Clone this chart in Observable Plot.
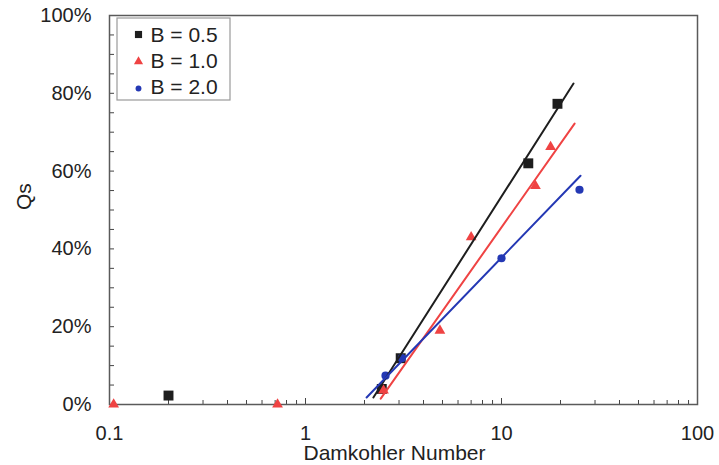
<!DOCTYPE html>
<html>
<head>
<meta charset="utf-8">
<script src="https://cdn.jsdelivr.net/npm/d3@7"></script>
<script src="https://cdn.jsdelivr.net/npm/@observablehq/plot@0.6"></script>
<style>
  html, body { margin: 0; padding: 0; background: #fff; }
  #chart { width: 719px; height: 465px; }
</style>
</head>
<body>
<div id="chart"></div>
<script>
// Series definitions
const seriesNames = ["B = 0.5", "B = 1.0", "B = 2.0"];
const seriesColors = ["#1e1e1e", "#ef4343", "#2438b4"];
const seriesSymbols = ["square", "triangle", "circle"];
const seriesRadius = [5.6, 4.0, 4.1];

// Measured points: Damkohler number vs Qs (fraction)
const damkohler05 = [0.2, 2.45, 3.06, 13.7, 19.3];
const qs05 = [0.023, 0.04, 0.119, 0.62, 0.773];
const damkohler10 = [0.105, 0.72, 2.5, 4.85, 7.0, 14.9, 17.8];
const qs10 = [0, 0, 0.036, 0.19, 0.43, 0.562, 0.662];
const damkohler20 = [2.56, 3.1, 10, 25];
const qs20 = [0.074, 0.119, 0.376, 0.552];

// Fitted trend lines (end points, log-linear)
const fitX05 = [2.22, 23.3], fitQs05 = [0.018, 0.825];
const fitX10 = [2.42, 23.6], fitQs10 = [0.015, 0.722];
const fitX20 = [2.05, 25.3], fitQs20 = [0.018, 0.588];

// Axis ticks
const xMajorTicks = [0.1, 1, 10, 100];
const xTickLabels = ["0.1", "1", "10", "100"];
const xMinorTicks = [0.1, 1, 10].flatMap(d => [2, 3, 4, 5, 6, 7, 8, 9].map(k => d * k));
const yTickValues = [0, 0.2, 0.4, 0.6, 0.8, 1];
const yTickLabels = ["0%", "20%", "40%", "60%", "80%", "100%"];
const yMinorTicks = d3.range(1, 20).map(i => i * 0.05);

const seriesX = [damkohler05, damkohler10, damkohler20];
const seriesY = [qs05, qs10, qs20];
const fitXs = [fitX05, fitX10, fitX20];
const fitYs = [fitQs05, fitQs10, fitQs20];

const W = 719, H = 465;
const mL = 109, mR = 22, mT = 15, mB = 61;
const plotW = W - mL - mR, plotH = H - mT - mB;
const font = "'Liberation Sans', Arial, sans-serif";

// Legend box drawn behind the legend entries
const legendBox = () => d3.create("svg:rect")
  .attr("x", mL + 8).attr("y", mT + 3)
  .attr("width", 113).attr("height", 82)
  .attr("fill", "#fff").attr("stroke", "#9a9a9a").attr("stroke-width", 1.2)
  .node();

const legendMarks = seriesNames.flatMap((name, i) => [
  Plot.dot([name], {
    frameAnchor: "top-left", dx: 29, dy: 19 + 27 * i,
    symbol: seriesSymbols[i], fill: seriesColors[i], stroke: "none", r: seriesRadius[i] * (i === 1 ? 0.85 : 0.72)
  }),
  Plot.text([name], {
    frameAnchor: "top-left", dx: 41, dy: 19.5 + 26 * i, lineAnchor: "middle",
    text: d => d, textAnchor: "start", fontSize: 21, fill: "#222"
  })
]);

const lineMarks = seriesNames.map((name, i) =>
  Plot.line(fitXs[i].map((x, j) => ({x, y: fitYs[i][j]})), {
    x: "x", y: "y", stroke: seriesColors[i], strokeWidth: 2
  })
);
const dotMarks = seriesNames.map((name, i) =>
  Plot.dot(seriesX[i].map((x, j) => ({x, y: seriesY[i][j]})), {
    x: "x", y: "y", symbol: seriesSymbols[i], fill: seriesColors[i], stroke: "none", r: seriesRadius[i]
  })
);

const chart = Plot.plot({
  width: W, height: H,
  marginLeft: mL, marginRight: mR, marginTop: mT, marginBottom: mB,
  style: {fontFamily: font, fontSize: "20px", color: "#222", background: "#fff"},
  x: {type: "log", domain: [0.1, 100], label: null},
  y: {domain: [0, 1], label: null},
  marks: [
    Plot.axisX(xMajorTicks, {tickSize: 0, tickPadding: 21, tickFormat: d => xTickLabels[xMajorTicks.indexOf(d)], fontSize: 20}),
    Plot.axisY(yTickValues, {tickSize: 0, tickPadding: 18, tickFormat: d => yTickLabels[yTickValues.indexOf(d)], fontSize: 20}),
    // inward tick marks
    Plot.tickX(xMinorTicks, {x: d => d, insetTop: plotH - 4, stroke: "#444", strokeWidth: 1}),
    Plot.tickX(xMajorTicks, {x: d => d, insetTop: plotH - 6, stroke: "#444", strokeWidth: 1}),
    Plot.tickY(yMinorTicks, {y: d => d, insetRight: plotW - 5, stroke: "#444", strokeWidth: 1}),
    Plot.frame({stroke: "#5a5a5a", strokeWidth: 1.5}),
    ...dotMarks,
    ...lineMarks,
    legendBox,
    ...legendMarks,
    Plot.text(["Damkohler Number"], {frameAnchor: "bottom", dx: -9, dy: 49, lineAnchor: "middle", text: d => d, fontSize: 21, fill: "#222"}),
    Plot.text(["Qs"], {frameAnchor: "left", dx: -85, rotate: -90, lineAnchor: "middle", text: d => d, fontSize: 21, fill: "#222"})
  ]
});

document.getElementById("chart").appendChild(chart);
</script>
</body>
</html>
